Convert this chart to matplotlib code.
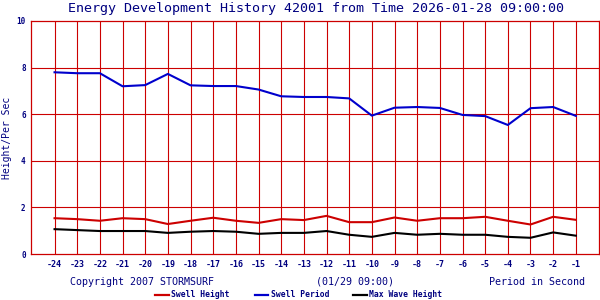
import numpy as np
import matplotlib
matplotlib.use("Agg")
import matplotlib.pyplot as plt

hours = list(range(-24, 0))
swell_height = [1.54, 1.50, 1.43, 1.54, 1.50, 1.29, 1.43, 1.56, 1.43, 1.34, 1.50, 1.46,
                1.64, 1.37, 1.37, 1.57, 1.43, 1.54, 1.54, 1.60, 1.43, 1.27, 1.60, 1.47]
swell_period = [7.80, 7.76, 7.76, 7.20, 7.25, 7.73, 7.24, 7.21, 7.21, 7.06, 6.77, 6.74,
                6.74, 6.68, 5.94, 6.28, 6.31, 6.27, 5.97, 5.92, 5.54, 6.26, 6.31, 5.93]
max_wave = [1.07, 1.03, 0.99, 0.99, 0.99, 0.91, 0.96, 0.99, 0.96, 0.87, 0.91, 0.91,
            0.99, 0.83, 0.74, 0.91, 0.83, 0.87, 0.83, 0.83, 0.74, 0.70, 0.93, 0.79]
y_ticks = [0, 2, 4, 6, 8, 10]

navy = '#000080'
grid_red = '#cc0000'
mono = 'DejaVu Sans Mono'

fig = plt.figure(figsize=(6, 3), dpi=100)
ax = fig.add_axes([0.052, 0.153, 0.947, 0.777])

for h in hours:
    ax.axvline(h, color=grid_red, lw=0.8, zorder=1)
for v in y_ticks[1:-1]:
    ax.axhline(v, color=grid_red, lw=0.8, zorder=1)

ax.plot(hours, swell_height, color='#cc0000', lw=1.5, zorder=3)
ax.plot(hours, swell_period, color='#0000cc', lw=1.5, zorder=3)
ax.plot(hours, max_wave, color='black', lw=1.5, zorder=3)

ax.set_xlim(-25.03, 0.04)
ax.set_ylim(0, 10)
ax.set_xticks(hours)
ax.set_xticklabels([str(h) for h in hours], fontsize=6, family=mono,
                   fontweight='bold', color=navy)
ax.set_yticks(y_ticks)
ax.set_yticklabels([str(v) for v in y_ticks], fontsize=5.5, family=mono,
                   fontweight='bold', color=navy)
ax.tick_params(length=0, pad=4)
for s in ax.spines.values():
    s.set_color(grid_red)
    s.set_linewidth(0.9)

fig.text(0.526, 0.972, 'Energy Development History 42001 from Time 2026-01-28 09:00:00',
         ha='center', va='center', fontsize=9.6, family=mono, color=navy)
fig.text(0.012, 0.54, 'Height/Per Sec', rotation=90, ha='center', va='center',
         fontsize=7, family=mono, color=navy)

fig.text(0.117, 0.06, 'Copyright 2007 STORMSURF', ha='left', va='center',
         fontsize=7.2, family=mono, color=navy)
fig.text(0.592, 0.06, '(01/29 09:00)', ha='center', va='center',
         fontsize=7.2, family=mono, color=navy)
fig.text(0.975, 0.06, 'Period in Second', ha='right', va='center',
         fontsize=7.2, family=mono, color=navy)

legend_items = [('Swell Height', '#cc0000', 0.259),
                ('Swell Period', '#0000cc', 0.425),
                ('Max Wave Height', 'black', 0.589)]
for label, col, x0 in legend_items:
    fig.add_artist(plt.Line2D([x0, x0 + 0.022], [0.017, 0.017], color=col, lw=1.6,
                              transform=fig.transFigure))
    fig.text(x0 + 0.026, 0.017, label, ha='left', va='center', fontsize=5.8,
             family=mono, fontweight='bold', color=navy)

fig.savefig('out.png', dpi=100)
